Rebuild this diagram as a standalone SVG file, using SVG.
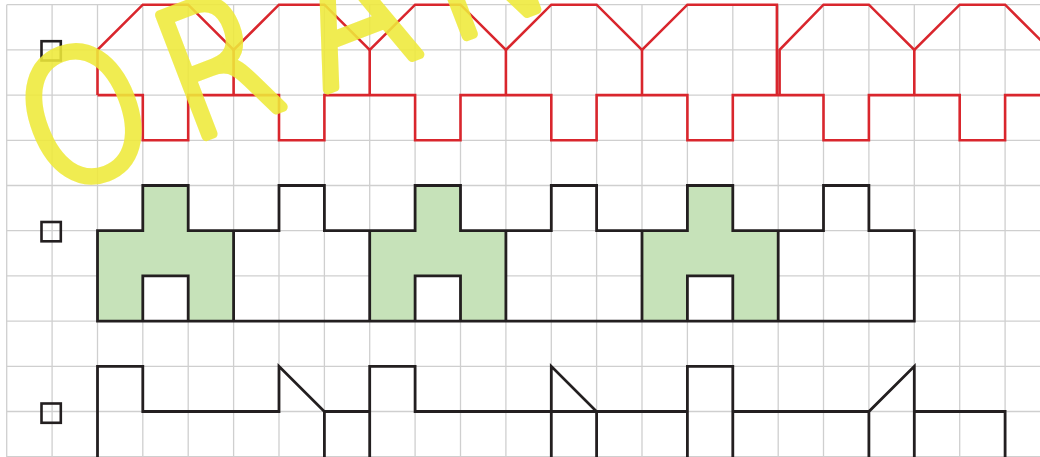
<svg xmlns="http://www.w3.org/2000/svg" width="1040" height="457" viewBox="0 0 1040 457">
<style>
.grid{fill:none;stroke:#cfcfcf;stroke-width:1.3}
.red{fill:none;stroke:#d9262d;stroke-width:2.6;stroke-linejoin:miter}
.blk{fill:none;stroke:#231f20;stroke-width:2.8;stroke-linejoin:miter}
.grn{fill:#c6e2b9;stroke:none}
.box{fill:none;stroke:#231f20;stroke-width:2.6}
.wm{font-family:"DejaVu Sans",sans-serif;font-weight:200;font-size:178px;fill:#efea3a;stroke:#efea3a;stroke-width:9.5;stroke-linejoin:round;stroke-linecap:round;opacity:0.88}
</style>
<defs>
<path id="gshape" d="M97.5,321.1 V230.7 H142.8 V185.5 H188.2 V230.7 H233.6 V321.1 H188.2 V275.9 H142.8 V321.1 Z"/>
</defs>
<rect width="1040" height="457" fill="#ffffff"/>
<g id="grid">
<path class="grid" d="M6.7,4.7 V457 M52.1,4.7 V457 M97.5,4.7 V457 M142.8,4.7 V457 M188.2,4.7 V457 M233.6,4.7 V457 M279,4.7 V457 M324.4,4.7 V457 M369.7,4.7 V457 M415.1,4.7 V457 M460.5,4.7 V457 M505.9,4.7 V457 M551.3,4.7 V457 M596.6,4.7 V457 M642,4.7 V457 M687.4,4.7 V457 M732.8,4.7 V457 M778.2,4.7 V457 M823.5,4.7 V457 M868.9,4.7 V457 M914.3,4.7 V457 M959.7,4.7 V457 M1005.1,4.7 V457"/>
<path class="grid" d="M6.7,4.7 H1040 M6.7,49.9 H1040 M6.7,95.1 H1040 M6.7,140.3 H1040 M6.7,185.5 H1040 M6.7,230.7 H1040 M6.7,275.9 H1040 M6.7,321.1 H1040 M6.7,366.3 H1040 M6.7,411.5 H1040 M6.7,456.7 H1040"/>
</g>
<g id="fills">
<use href="#gshape" class="grn"/>
<use href="#gshape" class="grn" transform="translate(272.3,0)"/>
<use href="#gshape" class="grn" transform="translate(544.5,0)"/>
</g>
<g id="connectors">
<path class="red" d="M97.5,95.1 V49.9 L142.8,4.7 H188.2 L233.6,49.9 L279,4.7 H324.4 L369.7,49.9 L415.1,4.7 H460.5 L505.9,49.9 L551.3,4.7 H596.6 L642,49.9 L687.4,4.7 H776.9 V95.1"/>
<path class="red" d="M233.6,49.9 V95.1 M369.7,49.9 V95.1 M505.9,49.9 V95.1 M642,49.9 V95.1 M914.3,49.9 V95.1"/>
<path class="red" d="M779.6,95.1 V49.9 L823.5,4.7 H868.9 L914.3,49.9 L959.7,4.7 H1005.1 L1050.4,49.9"/>
<path class="red" d="M97.5,95.1 H142.8 V140.3 H188.2 V95.1 H279 V140.3 H324.4 V95.1 H415.1 V140.3 H460.5 V95.1 H551.3 V140.3 H596.6 V95.1 H687.4 V140.3 H732.8 V95.1 H823.5 V140.3 H868.9 V95.1 H959.7 V140.3 H1005.1 V95.1 H1042"/>
<path class="blk" d="M97.5,321.1 V230.7 H142.8 V185.5 H188.2 V230.7 H279 V185.5 H324.4 V230.7 H415.1 V185.5 H460.5 V230.7 H551.3 V185.5 H596.6 V230.7 H687.4 V185.5 H732.8 V230.7 H823.5 V185.5 H868.9 V230.7 H914.3 V321.1 Z"/>
<path class="blk" d="M233.6,230.7 V321.1 M369.7,230.7 V321.1 M505.9,230.7 V321.1 M642,230.7 V321.1 M778.2,230.7 V321.1"/>
<path class="blk" d="M142.8,321.1 V275.9 H188.2 V321.1 M415.1,321.1 V275.9 H460.5 V321.1 M687.4,321.1 V275.9 H732.8 V321.1"/>
<path class="blk" d="M97.5,459 V366.3 H142.8 V411.5 H279 V366.3 L324.4,411.5 V459 M324.4,411.5 H369.7 M369.7,459 V366.3 H415.1 V411.5 H687.4 M551.3,459 V366.3 L596.6,411.5 V459 M687.4,459 V366.3 H732.8 V459 M732.8,411.5 H868.9 L914.3,366.3 V459 M868.9,411.5 V459 M914.3,411.5 H1005.1 V459"/>
</g>
<g id="box1"><rect class="box" x="41.5" y="41.2" width="19.3" height="19.3"/></g>
<g id="box2"><rect class="box" x="41.5" y="222" width="19.3" height="19.3"/></g>
<g id="box3"><rect class="box" x="41.5" y="403.5" width="19.3" height="19.3"/></g>
<g id="watermark">
<text class="wm" transform="translate(43,199) rotate(-21) scale(0.9,1)" x="6 172 333 482" y="0">ORAN</text>
</g>
</svg>
